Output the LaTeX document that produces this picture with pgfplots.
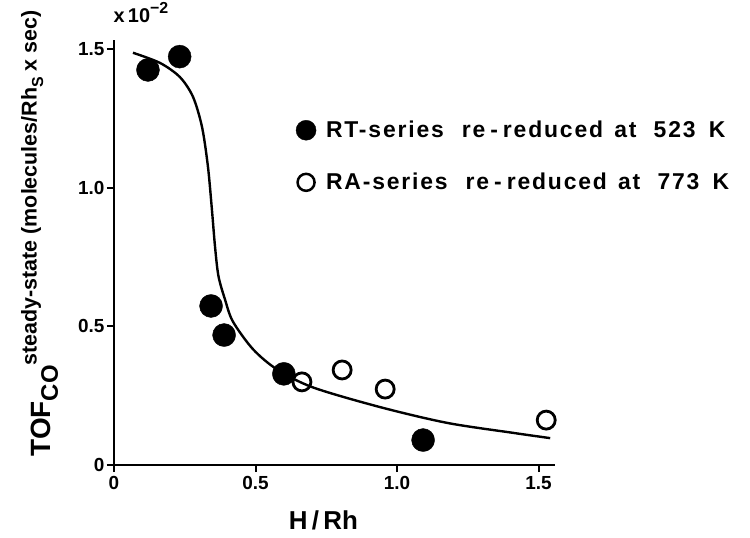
\documentclass[border=0pt]{standalone}
\usepackage{fontspec}
\setmainfont{Liberation Sans}
\newfontfamily\legfont[LetterSpace=8]{Liberation Sans}
\usepackage{pgfplots}
\pgfplotsset{compat=1.18}

\begin{document}
\begin{tikzpicture}
\begin{axis}[
    scale only axis,
    width=441bp, height=425bp,
    xmin=0, xmax=1.558,
    ymin=0, ymax=1.534,
    axis lines=left,
    axis line style={-, line width=2.2bp},
    tick align=outside,
    major tick length=7bp,
    tick style={line width=2bp, black},
    xtick={0,0.5,1,1.5},
    xticklabels={0,0.5,1.0,1.5},
    ytick={0,0.5,1,1.5},
    yticklabels={0,0.5,1.0,1.5},
    /pgf/number format/assume math mode=true,
    ticklabel style={font=\fontsize{19}{19}\selectfont\bfseries},
    xticklabel style={yshift=-1bp},
    yticklabel style={xshift=1bp},
    xlabel={\fontsize{26}{26}\selectfont\bfseries H\,/\,Rh},
    xlabel style={at={(axis description cs:0.475,0)}, anchor=base, yshift=-64bp},
    legend style={draw=none, fill=none, at={(axis cs:0.632,1.256)}, anchor=north west,
        font=\fontsize{23}{23}\legfont\bfseries, row sep=30bp,
        legend cell align=left},
    clip=false,
]
\addlegendimage{only marks, mark=*, mark size=10bp, black}
\addlegendentry{\hspace{8bp}RT-series\hspace{18bp}re\hspace{5bp}-\hspace{5bp}reduced\hspace{3bp} at\hspace{9bp} 523\hspace{5bp} K}
\addlegendimage{only marks, mark=o, mark size=8.5bp, line width=2.5bp, black}
\addlegendentry{\hspace{8bp}RA-series\hspace{18bp}re\hspace{5bp}-\hspace{5bp}reduced\hspace{3bp} at\hspace{9bp} 773\hspace{5bp} K}

% fitted curve
\addplot[black, line width=2.4bp, smooth, tension=0.5, forget plot] coordinates {
    (0.067,1.488) (0.163,1.451) (0.233,1.400) (0.279,1.329) (0.311,1.220)
    (0.332,1.076) (0.346,0.921) (0.357,0.787) (0.369,0.682) (0.392,0.598)
    (0.420,0.518) (0.491,0.418) (0.576,0.345) (0.703,0.280) (0.940,0.209)
    (1.177,0.152) (1.410,0.116) (1.541,0.097)
};

% RT-series (filled)
\addplot[only marks, mark=*, mark size=11.5bp, black, forget plot] coordinates {
    (0.120,1.426) (0.232,1.474) (0.343,0.574) (0.389,0.469) (0.600,0.329) (1.092,0.090)
};

% RA-series (open)
\addplot[only marks, mark=o, mark size=9bp, line width=2.8bp, black,
    mark options={fill=white}, forget plot] coordinates {
    (0.664,0.300) (0.806,0.343) (0.958,0.274) (1.527,0.162)
};

\node[rotate=90, anchor=base] at (axis description cs:-0.145,0.545)
    {\bfseries\fontsize{28}{28}\selectfont TOF\raisebox{-0.28em}{\fontsize{24}{24}\selectfont CO}\raisebox{0.48em}{\fontsize{21.5}{21.5}\selectfont steady-state (molecules/Rh\raisebox{-0.3em}{\fontsize{16}{16}\selectfont S} x sec)}};
\node[anchor=base west] at (axis description cs:-0.009,1.042)
    {\bfseries\fontsize{20}{20}\selectfont x\,10\raisebox{0.45em}{\fontsize{16}{16}\selectfont −2}};
\end{axis}
\pgfresetboundingbox
\path[use as bounding box] (-114bp,-73bp) rectangle (636bp,465bp);
\end{tikzpicture}
\end{document}
